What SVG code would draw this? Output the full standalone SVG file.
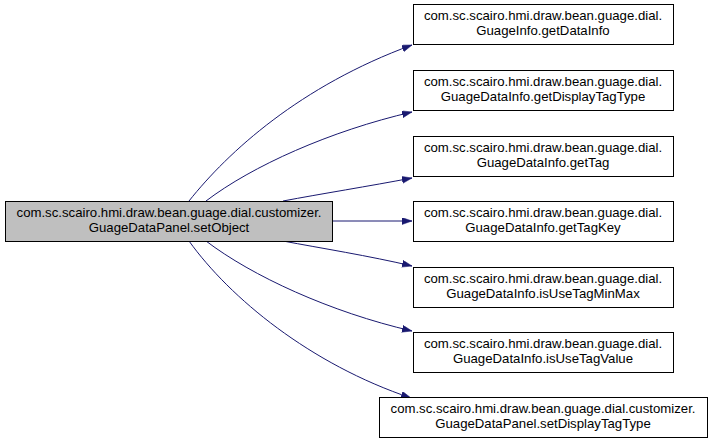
<svg xmlns="http://www.w3.org/2000/svg" width="712" height="444" viewBox="0 0 712 444">
<style>
.n rect{fill:#fff;stroke:#000;stroke-width:1}
.m rect{fill:#bfbfbf}
text{font-family:"Liberation Sans",Arial,sans-serif;font-size:13.2px;fill:#000;text-anchor:middle}
.e path{fill:none;stroke:#191970;stroke-width:1;marker-end:url(#a)}
</style>
<defs>
<marker id="a" markerUnits="userSpaceOnUse" markerWidth="11" markerHeight="8" refX="10" refY="3.5" orient="auto">
<path d="M0,0 L10,3.5 L0,7 z" fill="#191970" stroke="#191970" stroke-width="0.5"/>
</marker>
</defs>
<rect width="712" height="444" fill="#fff"/>
<g class="e" id="edges">
<path d="M189,201 C228,152 300,86 412,45"/>
<path d="M206,201 C252,166 330,131 412,112"/>
<path d="M283,201 C320,194 370,186 412,178"/>
<path d="M332,221 L412,221"/>
<path d="M283,241 C320,248 370,256 412,266"/>
<path d="M206,241 C252,276 330,312 412,331"/>
<path d="M189,241 C230,298 310,364 411,398"/>
</g>
<g class="n m" id="main">
<rect x="5.5" y="201.5" width="327" height="40"/>
<text x="169" y="217">com.sc.scairo.hmi.draw.bean.guage.dial.customizer.</text>
<text x="169" y="232">GuageDataPanel.setObject</text>
</g>
<g class="n" id="n1">
<rect x="413.5" y="4.5" width="260" height="40"/>
<text x="543" y="20">com.sc.scairo.hmi.draw.bean.guage.dial.</text>
<text x="543" y="35">GuageInfo.getDataInfo</text>
</g>
<g class="n" id="n2">
<rect x="413.5" y="70.5" width="260" height="40"/>
<text x="543" y="86">com.sc.scairo.hmi.draw.bean.guage.dial.</text>
<text x="543" y="101">GuageDataInfo.getDisplayTagType</text>
</g>
<g class="n" id="n3">
<rect x="413.5" y="136.5" width="260" height="40"/>
<text x="543" y="152">com.sc.scairo.hmi.draw.bean.guage.dial.</text>
<text x="543" y="167">GuageDataInfo.getTag</text>
</g>
<g class="n" id="n4">
<rect x="413.5" y="201.5" width="260" height="40"/>
<text x="543" y="217">com.sc.scairo.hmi.draw.bean.guage.dial.</text>
<text x="543" y="232">GuageDataInfo.getTagKey</text>
</g>
<g class="n" id="n5">
<rect x="413.5" y="267.5" width="260" height="40"/>
<text x="543" y="283">com.sc.scairo.hmi.draw.bean.guage.dial.</text>
<text x="543" y="298">GuageDataInfo.isUseTagMinMax</text>
</g>
<g class="n" id="n6">
<rect x="413.5" y="332.5" width="260" height="40"/>
<text x="543" y="348">com.sc.scairo.hmi.draw.bean.guage.dial.</text>
<text x="543" y="363">GuageDataInfo.isUseTagValue</text>
</g>
<g class="n" id="n7">
<rect x="379.5" y="397.5" width="328" height="40"/>
<text x="543" y="413">com.sc.scairo.hmi.draw.bean.guage.dial.customizer.</text>
<text x="543" y="428">GuageDataPanel.setDisplayTagType</text>
</g>
</svg>
